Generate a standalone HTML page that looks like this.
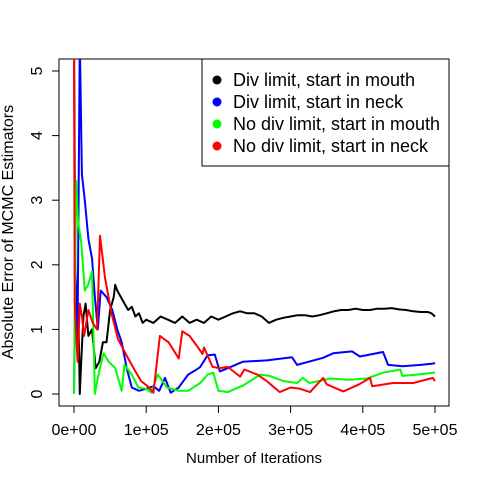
<!DOCTYPE html>
<html><head><meta charset="utf-8"><style>
body{margin:0;background:#fff}
svg text{font-family:"Liberation Sans",Arial,sans-serif}
</style></head><body>
<svg id="c" width="480" height="480" xmlns="http://www.w3.org/2000/svg">
<defs><clipPath id="clip"><rect x="59" y="59" width="390" height="347"/></clipPath></defs>
<rect x="59" y="59" width="390" height="347" fill="none" stroke="#000" stroke-width="1"/>
<g id="series" clip-path="url(#clip)"></g>
<g id="axes"></g>
<text x="254" y="463" font-size="15" text-anchor="middle">Number of Iterations</text>
<text transform="translate(13,232) rotate(-90)" font-size="16" text-anchor="middle">Absolute Error of MCMC Estimators</text>
<g>
<rect x="202" y="59" width="247" height="107" fill="#fff" stroke="#000" stroke-width="1"/>
<g id="legend"></g>
</g>
</svg>
<script>
const xTicks=[0,100000,200000,300000,400000,500000];
const xTickLabels=["0e+00","1e+05","2e+05","3e+05","4e+05","5e+05"];
const yTicks=[0,1,2,3,4,5];
const seriesNames=["Div limit, start in mouth","Div limit, start in neck","No div limit, start in mouth","No div limit, start in neck"];
const seriesColors=["#000000","#0000ff","#00ff00","#ff0000"];
// iterations in thousands, values
const blackK=[0,2,4,6,8,10,13,16,20,25,30,35,40,45,50,55,57,60,65,70,75,80,85,90,95,100,110,120,130,140,150,160,170,180,190,200,210,220,230,240,250,260,270,280,290,300,310,320,330,340,350,360,370,380,390,400,410,420,430,440,450,460,470,480,490,495,500];
const blackV=[5.5,1.5,0.8,1.3,0,0.5,1.2,1.4,0.9,1.0,0.4,0.5,0.8,0.8,1.3,1.5,1.69,1.6,1.5,1.4,1.3,1.35,1.2,1.25,1.1,1.15,1.1,1.2,1.15,1.1,1.2,1.1,1.15,1.1,1.2,1.15,1.2,1.25,1.28,1.25,1.25,1.2,1.1,1.15,1.18,1.2,1.22,1.22,1.2,1.22,1.25,1.28,1.3,1.3,1.32,1.3,1.3,1.32,1.32,1.33,1.31,1.3,1.28,1.27,1.27,1.25,1.2];
const blueK=[0,2,5,8,11,15,20,25,29,33,37,45,53,60,66,73,80,90,100,110,118,126,134,145,158,170,175,185,195,202,213,234,267,302,309,345,359,385,396,428,435,455,480,497,500];
const blueV=[0,1.9,1.0,5.5,3.4,3.0,2.4,2.1,1.5,1.0,1.6,1.5,1.3,1.0,0.8,0.4,0.1,0.05,0.08,0.12,0.05,0.25,0.02,0.1,0.3,0.38,0.42,0.6,0.61,0.35,0.4,0.5,0.52,0.57,0.45,0.56,0.63,0.66,0.58,0.65,0.45,0.43,0.45,0.47,0.48];
const greenK=[0,1,3,5,6,10,15,20,25,29,34,39,41,48,57,66,70,80,89,100,107,116,129,145,158,175,185,193,200,213,234,258,271,290,309,317,326,355,380,406,428,452,455,475,497,500];
const greenV=[0,1.2,3.3,2.8,2.65,2.35,1.6,1.7,1.9,0.0,0.3,0.55,0.63,0.5,0.4,0.05,0.45,0.3,0.1,0.08,0.02,0.3,0.1,0.05,0.05,0.17,0.3,0.33,0.05,0.03,0.13,0.3,0.28,0.2,0.17,0.25,0.17,0.24,0.22,0.24,0.33,0.38,0.28,0.3,0.33,0.33];
const redK=[0,1,3,5,8,11,14,20,26,32,36,43,52,61,75,85,93,102,110,119,131,145,150,160,170,178,180,192,202,213,230,236,254,267,285,300,313,327,345,350,373,395,410,413,442,470,497,500];
const redV=[5.5,1.4,0.9,0.5,1.4,1.2,0.9,1.3,1.1,1.0,2.45,1.8,1.25,0.85,0.55,0.35,0.2,0.12,0.02,0.9,0.8,0.55,0.97,0.9,0.75,0.62,0.72,0.42,0.4,0.42,0.27,0.38,0.3,0.2,0.03,0.1,0.08,0.03,0.25,0.15,0.04,0.15,0.25,0.12,0.17,0.17,0.25,0.2];
const allK=[blackK,blueK,greenK,redK];
const allV=[blackV,blueV,greenV,redV];
const NS="http://www.w3.org/2000/svg";
function xs(v){return 74+(v/500000)*361;}
function ys(v){return 394-v*64.6;}
const axes=document.getElementById('axes');
const g=document.getElementById('series');
function mk(t,a,p){const e=document.createElementNS(NS,t);for(const k in a)e.setAttribute(k,a[k]);p.appendChild(e);return e;}
let ax=mk('line',{x1:xs(0),x2:xs(500000),y1:406,y2:406,stroke:'#000'},axes);


xTicks.forEach((t,i)=>{
 const l=mk('line',{x1:xs(t),x2:xs(t),y1:406,y2:413,stroke:'#000'},axes);
 
 
 const tx=mk('text',{x:xs(t),y:435,'font-size':16,'text-anchor':'middle'},axes);
 tx.textContent=xTickLabels[i];
 
 
});
let ay=mk('line',{x1:59,x2:59,y1:ys(0),y2:ys(5),stroke:'#000'},axes);


yTicks.forEach(t=>{
 const l=mk('line',{x1:52,x2:59,y1:ys(t),y2:ys(t),stroke:'#000'},axes);
 
 
 const tx=mk('text',{transform:`translate(42,${ys(t)}) rotate(-90)`,'font-size':16,'text-anchor':'middle'},axes);
 tx.textContent=String(t);
 
 
});
allK.forEach((ks,si)=>{
 const d=ks.map((k,i)=>(i?'L':'M')+xs(k*1000).toFixed(1)+','+ys(allV[si][i]).toFixed(1)).join('');
 const p=mk('path',{d:d,fill:'none',stroke:seriesColors[si],'stroke-width':2,'stroke-linejoin':'round'},g);
 
 
});
const lg=document.getElementById('legend');
seriesNames.forEach((n,i)=>{
 const y=80+i*22;
 const c=mk('circle',{cx:217,cy:y,r:4.5,fill:seriesColors[i]},lg);
 
 
 const t=mk('text',{x:233,y:y+6,'font-size':18},lg);
 t.textContent=n;
 
 
});
</script>
</body></html>
